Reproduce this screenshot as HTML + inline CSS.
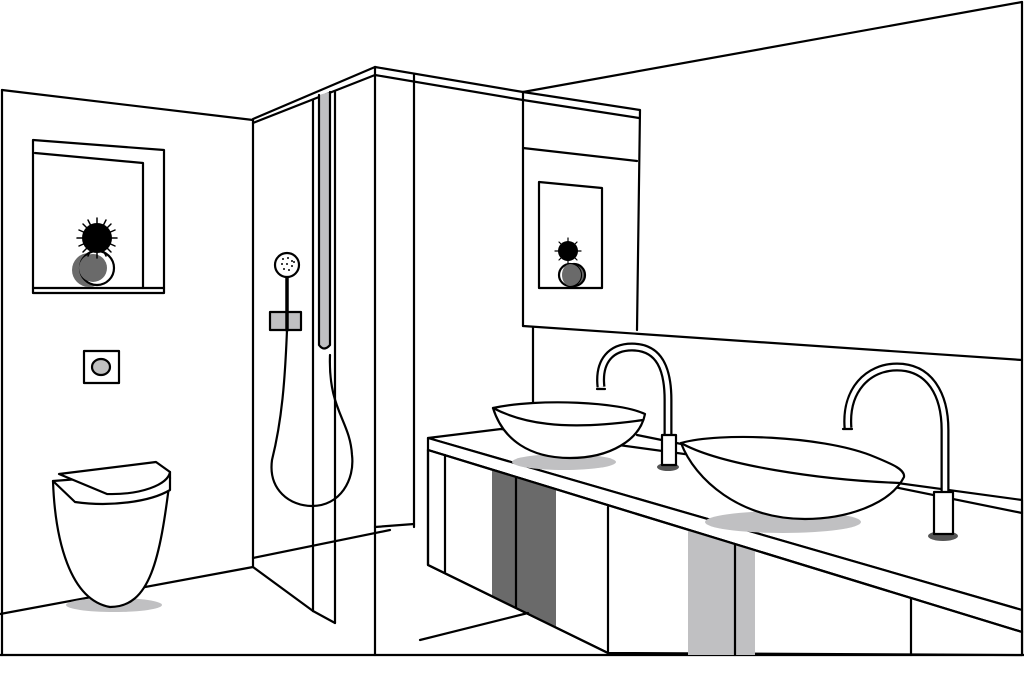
<!DOCTYPE html>
<html><head><meta charset="utf-8"><style>html,body{margin:0;padding:0;background:#fff}svg{display:block}</style></head>
<body>
<svg width="1024" height="680" viewBox="0 0 1024 680" xmlns="http://www.w3.org/2000/svg" fill="none" stroke="#000" stroke-width="2.2" stroke-linejoin="round" stroke-linecap="round">
<rect x="0" y="0" width="1024" height="680" fill="#fff" stroke="none"/>
<!-- frame -->
<line x1="0" y1="655" x2="1024" y2="655"/>
<line x1="2" y1="90" x2="2" y2="655"/>
<!-- left wall -->
<line x1="2" y1="90" x2="253" y2="120"/>
<line x1="253" y1="120" x2="253" y2="567"/>
<line x1="0" y1="614" x2="253" y2="567"/>
<!-- niche left -->
<polygon points="33,140 164,150 164,293 33,293"/>
<polyline points="35,153 143,163 143,288"/>
<line x1="33" y1="288" x2="164" y2="288"/>
<!-- plant -->
<circle cx="89" cy="270" r="17" fill="#6a6a6a" stroke="none"/>
<circle cx="97" cy="268" r="17" fill="#fff"/>
<circle cx="93" cy="268" r="14" fill="#6a6a6a" stroke="none"/>
<circle cx="97" cy="238" r="15" fill="#000" stroke="none"/>
<g stroke="#000" stroke-width="1.5">
<line x1="97" y1="218" x2="97" y2="258"/><line x1="77" y1="238" x2="117" y2="238"/><line x1="83" y1="224" x2="111" y2="252"/><line x1="111" y1="224" x2="83" y2="252"/><line x1="88" y1="220" x2="106" y2="256"/><line x1="106" y1="220" x2="88" y2="256"/><line x1="79" y1="230" x2="115" y2="246"/><line x1="79" y1="246" x2="115" y2="230"/></g>
<!-- flush plate -->
<rect x="84" y="351" width="35" height="32"/>
<ellipse cx="101" cy="367" rx="9" ry="8" fill="#c0c0c0"/>
<!-- toilet -->
<ellipse cx="114" cy="605" rx="48" ry="7" fill="#c0c0c2" stroke="none"/>
<path d="M53,481 C55,540 70,600 110,607 C150,607 160,560 170,478" fill="#fff"/>
<path d="M53,481 L75,502 C110,507 150,502 170,490 L170,472 Z" fill="#fff"/>
<path d="M59,474 L156,462 L170,472 C168,485 140,495 107,494 Z" fill="#fff"/>
<!-- shower -->
<line x1="253" y1="119" x2="375" y2="67"/>
<line x1="253" y1="123" x2="375" y2="75"/>
<line x1="253" y1="558" x2="390" y2="530"/>
<line x1="253" y1="567" x2="313" y2="611"/>
<line x1="313" y1="611" x2="335" y2="623"/>
<line x1="313" y1="100" x2="313" y2="611"/>
<line x1="335" y1="92" x2="335" y2="623"/>
<path d="M319,95 L319,345 Q324,352 330,345 L330,92" fill="#c0c0c2"/>
<line x1="375" y1="67" x2="375" y2="655"/>
<line x1="414" y1="75" x2="414" y2="527"/>
<line x1="375" y1="527" x2="414" y2="524"/>
<line x1="375" y1="67" x2="523" y2="92"/>
<line x1="375" y1="75" x2="523" y2="100"/>
<!-- hose -->
<path d="M287,330 C285,380 282,420 272,460 C268,490 290,506 312,506 C340,506 355,480 352,455 C350,420 328,410 330,355"/>
<rect x="270" y="312" width="31" height="18" fill="#c0c0c2"/>
<line x1="287" y1="277" x2="287" y2="330" stroke-width="3.5"/>
<circle cx="287" cy="265" r="12" fill="#fff"/>
<g fill="#000" stroke="none"><circle cx="283" cy="259" r="1"/><circle cx="288" cy="258" r="1"/><circle cx="292" cy="261" r="1"/><circle cx="282" cy="264" r="1"/><circle cx="287" cy="264" r="1"/><circle cx="292" cy="266" r="1"/><circle cx="284" cy="269" r="1"/><circle cx="289" cy="270" r="1"/><circle cx="294" cy="262" r="1"/></g>
<!-- right wall / cabinet -->
<line x1="523" y1="92" x2="1022" y2="2"/>
<line x1="1022" y1="2" x2="1022" y2="655"/>
<polyline points="523,92 640,110 637,330"/>
<line x1="523" y1="100" x2="639" y2="118"/>
<line x1="523" y1="92" x2="523" y2="326"/>
<line x1="523" y1="148" x2="637" y2="161"/>
<polygon points="539,182 602,188 602,288 539,288"/>
<circle cx="574" cy="275" r="11" fill="#6a6a6a"/>
<circle cx="570" cy="275" r="11" fill="#fff"/>
<path d="M570,264 A11,11 0 0 1 570,286 A8,11 0 0 1 570,264Z" fill="#6a6a6a" stroke="none"/>
<circle cx="568" cy="251" r="10" fill="#000" stroke="none"/>
<g stroke-width="1.2"><line x1="568" y1="238" x2="568" y2="264"/><line x1="555" y1="251" x2="581" y2="251"/><line x1="559" y1="242" x2="577" y2="260"/><line x1="577" y1="242" x2="559" y2="260"/></g>
<line x1="523" y1="326" x2="1022" y2="360"/>
<line x1="533" y1="327" x2="533" y2="432"/>
<!-- counter -->
<polygon points="428,438 501,429 1022,500 1022,610" fill="#fff"/>
<line x1="637" y1="435" x2="1022" y2="513"/>
<polygon points="428,438 1022,610 1022,632 428,450" fill="#fff"/>
<!-- cabinet -->
<polygon points="428,450 1022,632 1022,655 608,653 428,565" fill="#fff"/>
<polygon points="492,469 556,489 556,628 492,596" fill="#6a6a6a" stroke="none"/>
<polygon points="688,529 755,550 755,655 688,655" fill="#c0c0c2" stroke="none"/>
<polyline points="428,450 428,565 608,653"/>
<line x1="428" y1="450" x2="1022" y2="632"/>
<line x1="445" y1="455" x2="445" y2="572"/>
<line x1="516" y1="478" x2="516" y2="607"/>
<line x1="608" y1="507" x2="608" y2="653"/>
<line x1="735" y1="545" x2="735" y2="655"/>
<line x1="911" y1="598" x2="911" y2="655"/>
<line x1="420" y1="640" x2="528" y2="613"/>
<!-- left basin -->
<ellipse cx="564" cy="462" rx="52" ry="8" fill="#c0c0c2" stroke="none"/>
<path d="M493,408 C540,398 620,402 645,414 C640,440 610,458 570,458 C530,458 503,440 493,408Z" fill="#fff"/>
<path d="M493,408 C520,422 560,432 643,420"/>
<!-- left faucet -->
<ellipse cx="668" cy="467" rx="11" ry="4" fill="#555" stroke="none"/>
<path d="M601,387 C598,360 612,347 632,347 C660,347 668,370 668,400 L668,438" stroke="#000" stroke-width="9" stroke-linecap="butt"/>
<path d="M601,387 C598,360 612,347 632,347 C660,347 668,370 668,400 L668,438" stroke="#fff" stroke-width="4.5" stroke-linecap="butt"/>
<line x1="597" y1="389" x2="605" y2="389"/>
<rect x="662" y="435" width="14" height="30" fill="#fff"/>
<!-- right basin -->
<ellipse cx="783" cy="522" rx="78" ry="11" fill="#c0c0c2" stroke="none"/>
<path d="M681,443 C720,432 820,436 870,455 C895,465 905,470 904,477 C890,505 845,519 805,519 C740,519 695,480 681,443Z" fill="#fff"/>
<path d="M681,443 C720,465 820,480 900,483"/>
<!-- right faucet -->
<ellipse cx="943" cy="536" rx="15" ry="5" fill="#555" stroke="none"/>
<path d="M848,428 C845,390 868,367 897,367 C930,367 945,395 945,430 L945,494" stroke="#000" stroke-width="9" stroke-linecap="butt"/>
<path d="M848,428 C845,390 868,367 897,367 C930,367 945,395 945,430 L945,494" stroke="#fff" stroke-width="4.5" stroke-linecap="butt"/>
<line x1="843" y1="429" x2="852" y2="429"/>
<rect x="934" y="492" width="19" height="42" fill="#fff"/>
</svg>
</body></html>
